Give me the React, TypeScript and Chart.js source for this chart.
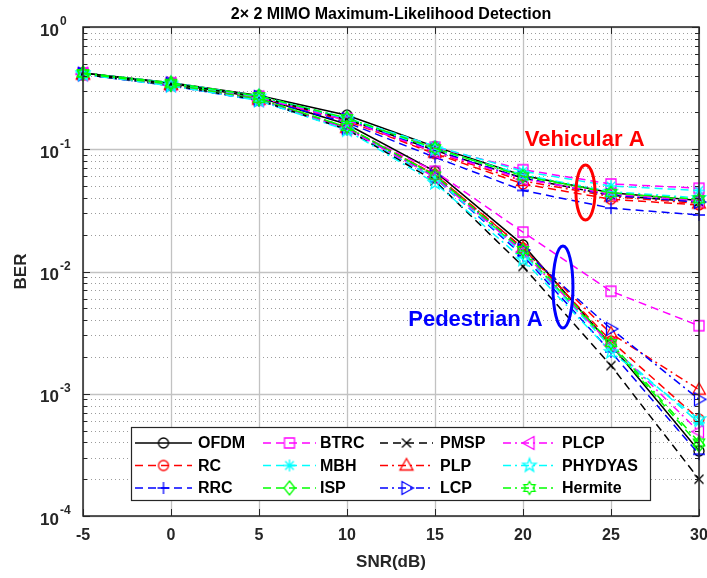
import React, { useEffect, useRef } from 'react';
import { Chart, registerables } from 'chart.js';
Chart.register(...registerables);

// ---------------- data ----------------
const snr = [-5, 0, 5, 10, 15, 20, 25, 30];
const xTickValues = [-5, 0, 5, 10, 15, 20, 25, 30];
const yDecadeExponents = [0, -1, -2, -3, -4];

// Vehicular A channel
const OFDM_VA = [0.42, 0.35, 0.275, 0.19, 0.105, 0.061, 0.044, 0.038];
const RC_VA = [0.41, 0.34, 0.265, 0.17, 0.092, 0.052, 0.039, 0.035];
const RRC_VA = [0.41, 0.335, 0.26, 0.165, 0.086, 0.046, 0.033, 0.029];
const BTRC_VA = [0.42, 0.35, 0.27, 0.178, 0.104, 0.068, 0.052, 0.048];
const MBH_VA = [0.42, 0.35, 0.272, 0.18, 0.106, 0.066, 0.05, 0.046];
const ISP_VA = [0.42, 0.345, 0.27, 0.178, 0.101, 0.061, 0.044, 0.038];
const PMSP_VA = [0.42, 0.345, 0.268, 0.175, 0.098, 0.058, 0.042, 0.037];
const PLP_VA = [0.41, 0.34, 0.265, 0.172, 0.094, 0.055, 0.041, 0.036];
const LCP_VA = [0.415, 0.345, 0.268, 0.175, 0.097, 0.058, 0.042, 0.037];
const PLCP_VA = [0.415, 0.34, 0.265, 0.172, 0.095, 0.057, 0.043, 0.038];
const PHYDYAS_VA = [0.42, 0.345, 0.27, 0.178, 0.1, 0.062, 0.045, 0.04];
const Hermite_VA = [0.42, 0.35, 0.272, 0.18, 0.102, 0.06, 0.044, 0.039];

// Pedestrian A channel
const OFDM_PA = [0.42, 0.345, 0.265, 0.16, 0.066, 0.0165, 0.0025, 0.00034];
const RC_PA = [0.41, 0.335, 0.255, 0.15, 0.062, 0.0155, 0.0027, 0.00062];
const RRC_PA = [0.41, 0.33, 0.25, 0.145, 0.058, 0.0135, 0.0022, 0.00032];
const BTRC_PA = [0.41, 0.335, 0.252, 0.148, 0.066, 0.021, 0.0069, 0.0036];
const MBH_PA = [0.41, 0.335, 0.25, 0.145, 0.058, 0.014, 0.0024, 0.00058];
const ISP_PA = [0.415, 0.34, 0.258, 0.152, 0.061, 0.0145, 0.0025, 0.00038];
const PMSP_PA = [0.41, 0.335, 0.252, 0.145, 0.055, 0.011, 0.0017, 0.0002];
const PLP_PA = [0.41, 0.335, 0.255, 0.15, 0.062, 0.0155, 0.0031, 0.00108];
const LCP_PA = [0.41, 0.335, 0.253, 0.148, 0.06, 0.015, 0.0034, 0.0009];
const PLCP_PA = [0.41, 0.335, 0.252, 0.147, 0.059, 0.0145, 0.0025, 0.00049];
const PHYDYAS_PA = [0.41, 0.33, 0.25, 0.143, 0.053, 0.0125, 0.0022, 0.00062];
const Hermite_PA = [0.415, 0.34, 0.258, 0.152, 0.061, 0.015, 0.0026, 0.0004];

const TITLE = '2\u00d7 2 MIMO Maximum-Likelihood Detection';
const X_LABEL = 'SNR(dB)';
const Y_LABEL = 'BER';
const VEH_LABEL = 'Vehicular A';
const PED_LABEL = 'Pedestrian A';

const SOLID: number[] = [];
const DASH = [8, 5];
const DASHDOT = [8, 4, 2, 4];

const schemes = [
  { name: 'OFDM', color: '#000000', dash: SOLID, marker: 'circle', veh: OFDM_VA, ped: OFDM_PA },
  { name: 'RC', color: '#ff0000', dash: DASH, marker: 'circle', veh: RC_VA, ped: RC_PA },
  { name: 'RRC', color: '#0000ff', dash: DASH, marker: 'plus', veh: RRC_VA, ped: RRC_PA },
  { name: 'BTRC', color: '#ff00ff', dash: DASH, marker: 'square', veh: BTRC_VA, ped: BTRC_PA },
  { name: 'MBH', color: '#00ffff', dash: DASH, marker: 'asterisk', veh: MBH_VA, ped: MBH_PA },
  { name: 'ISP', color: '#00ff00', dash: DASH, marker: 'diamond', veh: ISP_VA, ped: ISP_PA },
  { name: 'PMSP', color: '#000000', dash: DASH, marker: 'x', veh: PMSP_VA, ped: PMSP_PA },
  { name: 'PLP', color: '#ff0000', dash: DASHDOT, marker: 'triUp', veh: PLP_VA, ped: PLP_PA },
  { name: 'LCP', color: '#0000ff', dash: DASHDOT, marker: 'triRight', veh: LCP_VA, ped: LCP_PA },
  { name: 'PLCP', color: '#ff00ff', dash: DASHDOT, marker: 'triLeft', veh: PLCP_VA, ped: PLCP_PA },
  { name: 'PHYDYAS', color: '#00ffff', dash: DASHDOT, marker: 'pentagram', veh: PHYDYAS_VA, ped: PHYDYAS_PA },
  { name: 'Hermite', color: '#00ff00', dash: DASHDOT, marker: 'hexagram', veh: Hermite_VA, ped: Hermite_PA },
];

const FONT = "'Liberation Sans', Arial, Helvetica, sans-serif";
const AXIS_COLOR = '#262626';

function makeMarker(kind: string, color: string): HTMLCanvasElement {
  const S = 22;
  const c = document.createElement('canvas');
  c.width = S;
  c.height = S;
  const g = c.getContext('2d')!;
  g.strokeStyle = color;
  g.lineWidth = 1.3;
  g.lineJoin = 'miter';
  g.translate(S / 2, S / 2);
  g.beginPath();
  const star = (n: number, R: number, r: number) => {
    for (let i = 0; i < 2 * n; i++) {
      const a = -Math.PI / 2 + (i * Math.PI) / n;
      const rr = i % 2 === 0 ? R : r;
      const px = rr * Math.cos(a);
      const py = rr * Math.sin(a);
      if (i === 0) g.moveTo(px, py);
      else g.lineTo(px, py);
    }
    g.closePath();
  };
  switch (kind) {
    case 'circle':
      g.arc(0, 0, 5, 0, Math.PI * 2);
      break;
    case 'plus':
      g.moveTo(-6, 0); g.lineTo(6, 0); g.moveTo(0, -6); g.lineTo(0, 6);
      break;
    case 'square':
      g.rect(-5, -5, 10, 10);
      break;
    case 'asterisk':
      g.moveTo(-6, 0); g.lineTo(6, 0); g.moveTo(0, -6); g.lineTo(0, 6);
      g.moveTo(-4.3, -4.3); g.lineTo(4.3, 4.3); g.moveTo(-4.3, 4.3); g.lineTo(4.3, -4.3);
      break;
    case 'diamond':
      g.moveTo(0, -7); g.lineTo(5.5, 0); g.lineTo(0, 7); g.lineTo(-5.5, 0); g.closePath();
      break;
    case 'x':
      g.moveTo(-4.5, -4.5); g.lineTo(4.5, 4.5); g.moveTo(-4.5, 4.5); g.lineTo(4.5, -4.5);
      break;
    case 'triUp':
      g.moveTo(0, -7); g.lineTo(6.5, 4.5); g.lineTo(-6.5, 4.5); g.closePath();
      break;
    case 'triRight':
      g.moveTo(7, 0); g.lineTo(-4.5, -6.5); g.lineTo(-4.5, 6.5); g.closePath();
      break;
    case 'triLeft':
      g.moveTo(-7, 0); g.lineTo(4.5, -6.5); g.lineTo(4.5, 6.5); g.closePath();
      break;
    case 'pentagram':
      star(5, 7, 2.9);
      break;
    case 'hexagram':
      star(6, 6.5, 3.8);
      break;
  }
  g.stroke();
  return c;
}

function supLabel(ctx: CanvasRenderingContext2D, exp: number, leftX: number, y: number) {
  const base = '10';
  const sup = String(exp);
  ctx.textAlign = 'left';
  ctx.textBaseline = 'middle';
  ctx.font = `bold 17px ${FONT}`;
  const wb = ctx.measureText(base).width;
  ctx.fillText(base, leftX, y + 4);
  ctx.font = `bold 12px ${FONT}`;
  ctx.fillText(sup, leftX + wb + 1, y - 5);
}

export default function App() {
  const ref = useRef<HTMLCanvasElement | null>(null);

  useEffect(() => {
    document.body.style.margin = '0';
    document.body.style.overflow = 'hidden';
    const canvas = ref.current;
    if (!canvas) return;

    const markers = schemes.map((s) => makeMarker(s.marker, s.color));

    const datasets: any[] = [];
    let idx = 0;
    schemes.forEach((s, i) => {
      [s.veh, s.ped].forEach((arr) => {
        datasets.push({
          label: s.name,
          data: snr.map((x, k) => ({ x, y: arr[k] })),
          borderColor: s.color,
          backgroundColor: 'rgba(0,0,0,0)',
          borderWidth: 1.5,
          borderDash: s.dash,
          pointStyle: markers[i],
          pointRadius: 6,
          pointBorderColor: s.color,
          pointBackgroundColor: 'rgba(0,0,0,0)',
          tension: 0,
          fill: false,
          clip: false,
          order: -idx,
        });
        idx++;
      });
    });

    const decorPlugin = {
      id: 'matlabDecor',
      beforeDraw(chart: any) {
        const { ctx, width, height } = chart;
        ctx.save();
        ctx.fillStyle = '#ffffff';
        ctx.fillRect(0, 0, width, height);
        ctx.restore();
      },
      beforeDatasetsDraw(chart: any) {
        const { ctx, chartArea, scales } = chart;
        const { left, right, top, bottom } = chartArea;
        const xs = scales.x;
        const ys = scales.y;
        ctx.save();
        // minor dotted grid
        ctx.strokeStyle = '#9c9c9c';
        ctx.lineWidth = 1;
        ctx.setLineDash([1, 3]);
        for (let e = -4; e < 0; e++) {
          for (let m = 2; m <= 9; m++) {
            const py = Math.round(ys.getPixelForValue(m * Math.pow(10, e))) + 0.5;
            ctx.beginPath();
            ctx.moveTo(left, py);
            ctx.lineTo(right, py);
            ctx.stroke();
          }
        }
        // major grid
        ctx.setLineDash([]);
        ctx.strokeStyle = '#c2c2c2';
        ctx.lineWidth = 1.3;
        yDecadeExponents.forEach((e) => {
          const py = Math.round(ys.getPixelForValue(Math.pow(10, e))) + 0.5;
          ctx.beginPath();
          ctx.moveTo(left, py);
          ctx.lineTo(right, py);
          ctx.stroke();
        });
        xTickValues.forEach((v) => {
          const px = Math.round(xs.getPixelForValue(v)) + 0.5;
          ctx.beginPath();
          ctx.moveTo(px, top);
          ctx.lineTo(px, bottom);
          ctx.stroke();
        });
        ctx.restore();
      },
      afterDatasetsDraw(chart: any) {
        const { ctx, chartArea, scales } = chart;
        const { left, right, top, bottom } = chartArea;
        const xs = scales.x;
        const ys = scales.y;
        ctx.save();
        // box
        ctx.strokeStyle = AXIS_COLOR;
        ctx.lineWidth = 1.5;
        ctx.setLineDash([]);
        ctx.strokeRect(left, top, right - left, bottom - top);
        // ticks
        ctx.lineWidth = 1;
        for (let e = -4; e <= 0; e++) {
          for (let m = 1; m <= (e === 0 ? 1 : 9); m++) {
            const py = Math.round(ys.getPixelForValue(m * Math.pow(10, e))) + 0.5;
            const len = m === 1 ? 7 : 4;
            ctx.beginPath();
            ctx.moveTo(left, py); ctx.lineTo(left + len, py);
            ctx.moveTo(right, py); ctx.lineTo(right - len, py);
            ctx.stroke();
          }
        }
        xTickValues.forEach((v) => {
          const px = Math.round(xs.getPixelForValue(v)) + 0.5;
          ctx.beginPath();
          ctx.moveTo(px, bottom); ctx.lineTo(px, bottom - 7);
          ctx.moveTo(px, top); ctx.lineTo(px, top + 7);
          ctx.stroke();
        });
        // tick labels
        ctx.fillStyle = AXIS_COLOR;
        ctx.font = `bold 16px ${FONT}`;
        ctx.textAlign = 'center';
        ctx.textBaseline = 'middle';
        xTickValues.forEach((v) => {
          ctx.fillText(String(v), xs.getPixelForValue(v), bottom + 20);
        });
        yDecadeExponents.forEach((e) => {
          supLabel(ctx, e, 40, ys.getPixelForValue(Math.pow(10, e)));
        });
        // axis labels and title
        ctx.textAlign = 'center';
        ctx.textBaseline = 'middle';
        ctx.font = `bold 17px ${FONT}`;
        ctx.fillText(X_LABEL, (left + right) / 2, bottom + 46);
        ctx.save();
        ctx.translate(21, (top + bottom) / 2);
        ctx.rotate(-Math.PI / 2);
        ctx.fillText(Y_LABEL, 0, 0);
        ctx.restore();
        ctx.font = `bold 16px ${FONT}`;
        ctx.fillStyle = '#000000';
        ctx.fillText(TITLE, (left + right) / 2, 15);

        // annotations
        ctx.lineWidth = 3;
        ctx.strokeStyle = '#ff0000';
        ctx.beginPath();
        ctx.ellipse(xs.getPixelForValue(23.55), ys.getPixelForValue(0.0443), 9.5, 27.5, 0, 0, Math.PI * 2);
        ctx.stroke();
        ctx.fillStyle = '#ff0000';
        ctx.font = `bold 22px ${FONT}`;
        ctx.fillText(VEH_LABEL, xs.getPixelForValue(23.5), ys.getPixelForValue(0.119));
        ctx.strokeStyle = '#0000ff';
        ctx.beginPath();
        ctx.ellipse(xs.getPixelForValue(22.27), ys.getPixelForValue(0.00747), 10, 41, 0, 0, Math.PI * 2);
        ctx.stroke();
        ctx.fillStyle = '#0000ff';
        ctx.fillText(PED_LABEL, xs.getPixelForValue(17.3), ys.getPixelForValue(0.004));

        // legend
        const lx0 = 131, ly0 = 427, lx1 = 650, ly1 = 500;
        ctx.fillStyle = '#ffffff';
        ctx.fillRect(lx0, ly0, lx1 - lx0, ly1 - ly0);
        ctx.strokeStyle = AXIS_COLOR;
        ctx.lineWidth = 1.2;
        ctx.strokeRect(lx0 + 0.5, ly0 + 0.5, lx1 - lx0, ly1 - ly0);
        const lineStart = [135, 263, 380, 503];
        const lineEnd = [192, 316, 433, 556];
        const labelX = [198, 320, 440, 562];
        const rowY = [443, 465.5, 488];
        schemes.forEach((s, i) => {
          const col = Math.floor(i / 3);
          const row = i % 3;
          const y = rowY[row];
          ctx.strokeStyle = s.color;
          ctx.lineWidth = 1.5;
          ctx.setLineDash(s.dash);
          ctx.beginPath();
          ctx.moveTo(lineStart[col], y);
          ctx.lineTo(lineEnd[col], y);
          ctx.stroke();
          ctx.setLineDash([]);
          const mid = (lineStart[col] + lineEnd[col]) / 2;
          const mk = markers[i];
          ctx.drawImage(mk, mid - mk.width / 2, y - mk.height / 2);
          ctx.fillStyle = '#000000';
          ctx.font = `bold 16px ${FONT}`;
          ctx.textAlign = 'left';
          ctx.textBaseline = 'middle';
          ctx.fillText(s.name, labelX[col], y + 1);
        });
        ctx.restore();
      },
    };

    const chart = new Chart(canvas, {
      type: 'line',
      data: { datasets },
      options: {
        animation: false,
        responsive: false,
        devicePixelRatio: 1,
        layout: { padding: { left: 83, right: 8, top: 27, bottom: 62 } },
        plugins: { legend: { display: false }, title: { display: false }, tooltip: { enabled: false } },
        scales: {
          x: { type: 'linear', min: -5, max: 30, display: false },
          y: { type: 'logarithmic', min: 1e-4, max: 1, display: false },
        },
      },
      plugins: [decorPlugin],
    } as any);

    return () => chart.destroy();
  }, []);

  return <canvas ref={ref} width={707} height={578} style={{ display: 'block' }} />;
}
